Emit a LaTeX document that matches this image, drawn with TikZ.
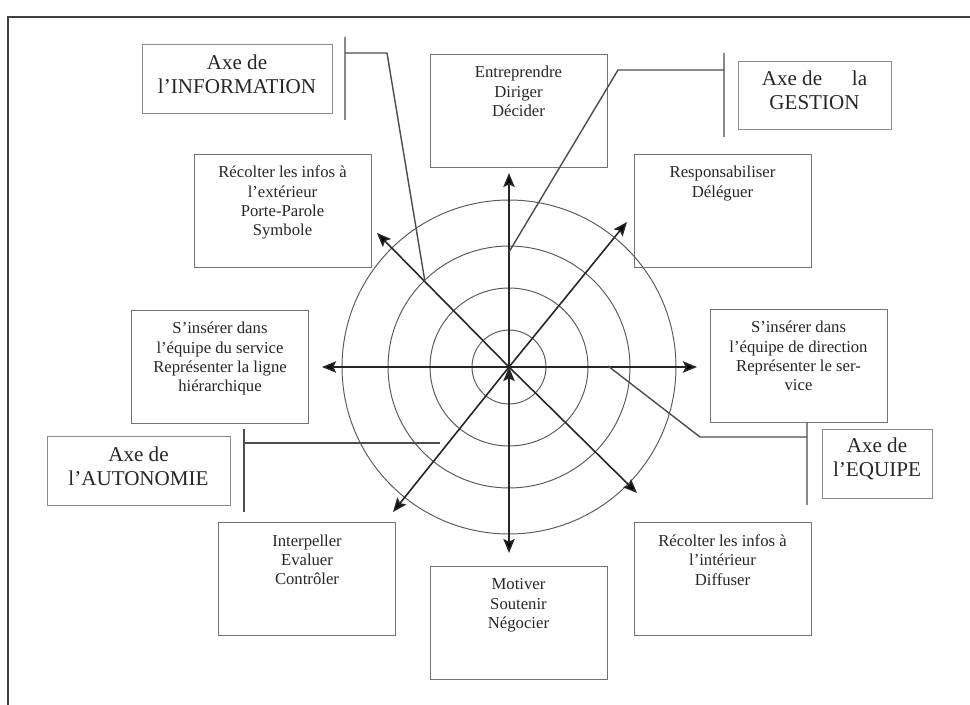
\documentclass[tikz,border=0pt]{standalone}
\usepackage{fontspec}
\setmainfont{Liberation Serif}
\usetikzlibrary{arrows.meta, positioning}

\begin{document}
\begin{tikzpicture}[x=0.02cm, y=-0.02cm, >={Stealth[length=8pt,width=6.5pt,inset=1.5pt]}, role box/.style={rectangle, draw=black!55, line width=0.5pt, minimum width=3.54cm, minimum height=2.26cm, inner sep=0pt}, role text/.style={align=center, inner sep=0pt, font=\fontsize{9.5}{11}\selectfont, text=black!85}, axe box/.style={rectangle, draw=black!45, line width=0.5pt, inner sep=0pt, minimum height=1.38cm}, axe text/.style={align=center, inner sep=0pt, font=\fontsize{12}{13.6}\selectfont, text=black!85}, ring/.style={draw=black!65, line width=0.55pt}, axe line/.style={draw=black!70, line width=0.8pt}]

  \useasboundingbox (0,0) rectangle (970,705);
  \draw[black!75, line width=1pt] (8,705) -- (8,17) -- (970,17);

  % roles
  \node[role box] (E) at (518.5,110.5) {};
  \node[role box] (RE) at (282.5,210.5) {};
  \node[role box] (RD) at (722.5,210.5) {};
  \node[role box] (SS) at (220,366.5) {};
  \node[role box] (SD) at (798.5,365.5) {};
  \node[role box] (IE) at (307,579) {};
  \node[role box] (MS) at (518.5,623) {};
  \node[role box] (RI) at (722.5,579) {};

  \node[role text, below=7pt of E.north] (Et) {Entreprendre\\Diriger\\Décider};
  \node[role text, below=7pt of RE.north] (REt) {Récolter les infos à\\l’extérieur\\Porte-Parole\\Symbole};
  \node[role text, below=7pt of RD.north] (RDt) {Responsabiliser\\Déléguer};
  \node[role text, below=7pt of SS.north] (SSt) {S’insérer dans\\l’équipe du service\\Représenter la ligne\\hiérarchique};
  \node[role text, below=7pt of SD.north] (SDt) {S’insérer dans\\l’équipe de direction\\Représenter le ser-\\vice};
  \node[role text, below=7pt of IE.north] (IEt) {Interpeller\\Evaluer\\Contrôler};
  \node[role text, below=7pt of MS.north] (MSt) {Motiver\\Soutenir\\Négocier};
  \node[role text, below=7pt of RI.north] (RIt) {Récolter les infos à\\l’intérieur\\Diffuser};

  % axes
  \node[axe box, minimum width=3.8cm] (info) at (237,78.5) {};
  \node[axe box, minimum width=3.06cm, minimum height=1.36cm] (gest) at (814.5,95) {};
  \node[axe box, minimum width=3.66cm] (auto) at (138.5,470.5) {};
  \node[axe box, minimum width=2.2cm] (equi) at (877,463.5) {};

  \node[axe text] (infot) at ([yshift=2.5pt]info.center) {Axe de\\l’INFORMATION};
  \node[axe text] (gestt) at ([yshift=2.5pt]gest.center) {Axe de\hspace{17pt}la\\GESTION};
  \node[axe text] (autot) at ([yshift=2.5pt]auto.center) {Axe de\\l’AUTONOMIE};
  \node[axe text] (equit) at ([yshift=2.5pt]equi.center) {Axe de\\l’EQUIPE};

  % wheel
  \coordinate (C) at (509,367);
  \foreach \r in {0.74,1.58,2.42,3.34}
    \draw[ring] (C) circle[radius=\r cm];

  \coordinate (tN) at (509,173);
  \coordinate (tS) at (509,553);
  \coordinate (tW) at (322,367);
  \coordinate (tE) at (697,367);
  \coordinate (tNW) at (377,233);
  \coordinate (tSE) at (637,493);
  \coordinate (tNE) at (627,222);
  \coordinate (tSW) at (393,512);

  \path[->, draw=black!85, line width=0.9pt]
       (C) edge (tN)
       (C) edge (tS)
       (C) edge (tW)
       (C) edge (tE)
       (C) edge (tNW)
       (C) edge (tSE)
       (C) edge (tNE)
       (C) edge (tSW);

  % axis leaders
  \coordinate (iT) at (345,37);
  \coordinate (iB) at (345,120);
  \coordinate (iK) at (387,53);
  \coordinate (iE) at (425,282);
  \coordinate (gT) at (724,53);
  \coordinate (gB) at (724,137);
  \coordinate (gK) at (618,70);
  \coordinate (gE) at (509,252);
  \coordinate (aT) at (244,429);
  \coordinate (aB) at (244,512);
  \coordinate (aE) at (440,443);
  \coordinate (qT) at (807,423);
  \coordinate (qB) at (807,505);
  \coordinate (qK) at (700,437);
  \coordinate (qE) at (608,366);

  \draw[axe line] (iT) -- (iB) (iK -| iT) -- (iK) -- (iE);
  \draw[axe line] (gT) -- (gB) (gK -| gT) -- (gK) -- (gE);
  \draw[axe line] (aT) -- (aB) (aE -| aT) -- (aE);
  \draw[axe line] (qT) -- (qB) (qK -| qT) -- (qK) -- (qE);
\end{tikzpicture}
\end{document}
